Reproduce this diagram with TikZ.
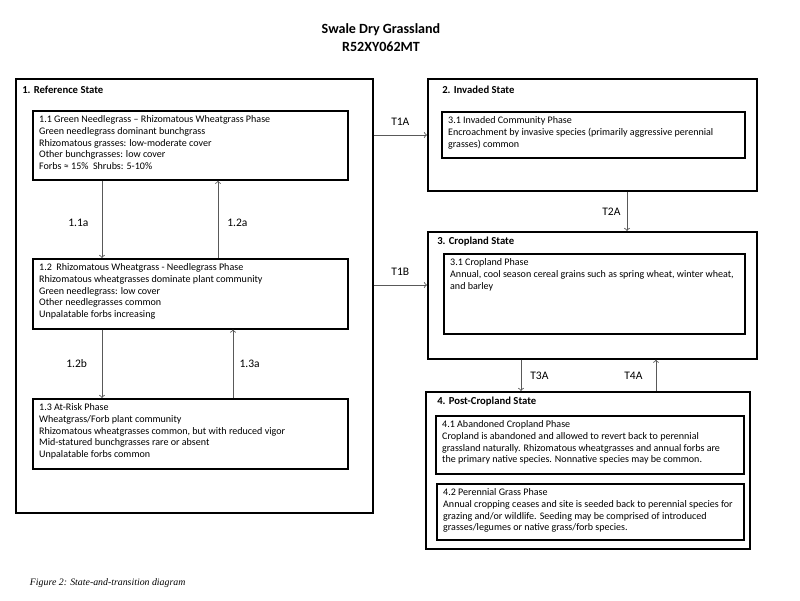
\documentclass[tikz,border=0pt]{standalone}
\usepackage{fontspec}
\setmainfont{Carlito}
\newfontfamily\capfont{Liberation Serif}
\usepackage{xcolor}
\usepackage{tikz}
\usetikzlibrary{arrows, positioning}
\definecolor{linegray}{rgb}{0.35, 0.35, 0.35}

\begin{document}
\begin{tikzpicture}[
  state/.style={rectangle, draw, line width=1.2pt, anchor=north west, inner sep=0pt},
  phase/.style={rectangle, draw, line width=1.2pt, anchor=north west, inner xsep=4.5pt, inner ysep=3.5pt, font=\fontsize{7.15}{8.3}\selectfont},
  statename/.style={anchor=west, inner sep=0pt, font=\fontsize{7.6}{9}\selectfont\bfseries},
  arrow/.style={->, line width=0.6pt, draw=linegray},
  trans/.style={font=\fontsize{8.2}{9}\selectfont}
]
\useasboundingbox (0,0) rectangle (20,15);

% Title
\node[align=center, font=\fontsize{10}{12.8}\selectfont\bfseries] (title) at (9.525, 14.05) {Swale Dry Grassland\\R52XY062MT};

% States
\node[state, minimum width=8.925cm, minimum height=10.85cm] (ref) at (0.375, 13.05) {};
\node[state, minimum width=8.225cm, minimum height=2.8cm] (inv) at (10.675, 13.05) {};
\node[state, minimum width=8.225cm, minimum height=3.175cm] (crop) at (10.675, 9.225) {};
\node[state, minimum width=8.1cm, minimum height=3.925cm] (post) at (10.625, 5.225) {};

\node[statename] (refname) at (0.55, 12.75) {1. Reference State};
\node[statename] (invname) at (11.05, 12.75) {2. Invaded\ State};
\node[statename] (cropname) at (10.925, 8.95) {3. Cropland State};
\node[statename] (postname) at (10.925, 4.95) {4. Post-Cropland\ State};

% Reference state phases
\node[phase] (ph11) at (0.8, 12.25) {\parbox[t][1.48cm][t]{7.56cm}{\raggedright
  1.1 Green Needlegrass – Rhizomatous Wheatgrass Phase\\
  Green needlegrass dominant bunchgrass\\
  Rhizomatous grasses: low-moderate cover\\
  Other bunchgrasses: low cover\\
  Forbs ≈ 15\%\ \ Shrubs: 5-10\%}};
\node[phase] (ph12) at (0.8, 8.55) {\parbox[t][1.5cm][t]{7.56cm}{\raggedright
  1.2\ \ Rhizomatous Wheatgrass - Needlegrass Phase\\
  Rhizomatous wheatgrasses dominate plant community\\
  Green needlegrass: low cover\\
  Other needlegrasses common\\
  Unpalatable forbs increasing}};
\node[phase] (ph13) at (0.8, 5.05) {\parbox[t][1.5cm][t]{7.56cm}{\raggedright
  1.3 At-Risk Phase\\
  Wheatgrass/Forb plant community\\
  Rhizomatous wheatgrasses common, but with reduced vigor\\
  Mid-statured bunchgrasses rare or absent\\
  Unpalatable forbs common}};

% Other phases
\node[phase] (inv31) at (11.025, 12.225) {\parbox[t][0.9cm][t]{7.26cm}{\raggedright
  3.1 Invaded Community Phase\\
  Encroachment by invasive species (primarily aggressive perennial\\
  grasses) common}};
\node[phase] (crop31) at (11.075, 8.675) {\parbox[t][1.75cm][t]{7.21cm}{\raggedright
  3.1 Cropland Phase\\
  Annual, cool season cereal grains such as spring wheat, winter wheat,\\
  and barley}};
\node[phase] (post41) at (10.875, 4.625) {\parbox[t][1.2cm][t]{7.38cm}{\raggedright
  4.1 Abandoned Cropland Phase\\
  Cropland is abandoned and allowed to revert back to perennial\\
  grassland naturally. Rhizomatous wheatgrasses and annual forbs are\\
  the primary native species. Nonnative species may be common.}};
\node[phase] (post42) at (10.9, 2.925) {\parbox[t][1.15cm][t]{7.36cm}{\raggedright
  4.2 Perennial Grass Phase\\
  Annual cropping ceases and site is seeded back to perennial species for\\
  grazing and/or wildlife. Seeding may be comprised of introduced\\
  grasses/legumes or native grass/forb species.}};

% Arrows within reference state
\draw[arrow] (2.55,0 |- ph11.south) -- (2.55,0 |- ph12.north) node[pos=0.55, left=6pt, trans] {1.1a};
\draw[arrow] (5.45,0 |- ph12.north) -- (5.45,0 |- ph11.south) node[pos=0.45, right=3pt, trans] {1.2a};
\draw[arrow] (2.55,0 |- ph12.south) -- (2.55,0 |- ph13.north) node[midway, left=7pt, trans] {1.2b};
\draw[arrow] (5.825,0 |- ph13.north) -- (5.825,0 |- ph12.south) node[midway, right=1pt, trans] {1.3a};

% Transitions
\draw[arrow] (ref.east |- 0,11.625) -- (inv.west |- 0,11.625) node[midway, above=3pt, trans] {T1A};
\draw[arrow] (ref.east |- 0,7.875) -- (crop.west |- 0,7.875) node[midway, above=3pt, trans] {T1B};
\draw[arrow] (15.675,0 |- inv.south) -- (15.675,0 |- crop.north) node[midway, left=1pt, trans] {T2A};
\draw[arrow] (13.025,0 |- crop.south) -- (13.025,0 |- post.north) node[midway, right=3pt, trans] {T3A};
\draw[arrow] (16.4,0 |- post.north) -- (16.4,0 |- crop.south) node[midway, left=6pt, trans] {T4A};

% Caption
\node[anchor=west, font=\capfont\itshape\fontsize{7}{8}\selectfont] (caption) at (0.625, 0.425) {Figure 2: State-and-transition diagram};

\end{tikzpicture}
\end{document}
